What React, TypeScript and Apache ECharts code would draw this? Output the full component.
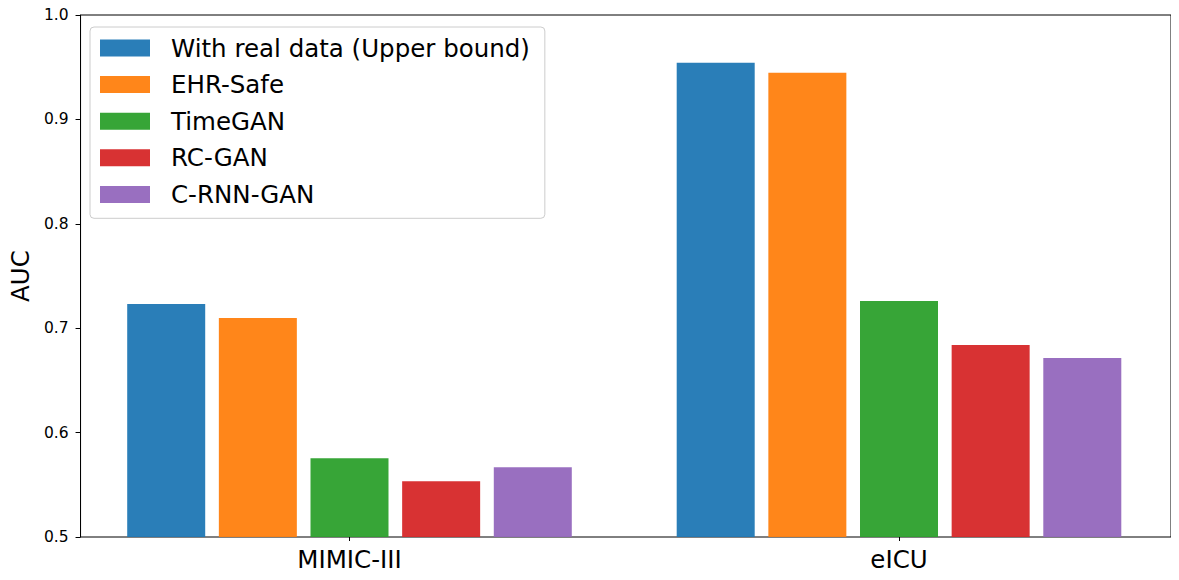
import React, { useEffect, useRef } from "react";
import * as echarts from "echarts";

const categories = ["MIMIC-III", "eICU"];
const seriesNames = ["With real data (Upper bound)", "EHR-Safe", "TimeGAN", "RC-GAN", "C-RNN-GAN"];
const realData = [0.7232, 0.9543];
const ehrSafe = [0.7097, 0.9447];
const timeGAN = [0.5755, 0.726];
const rcGAN = [0.5534, 0.6838];
const crnnGAN = [0.5668, 0.6714];
const colors = ["#1f77b4", "#ff7f0e", "#2ca02c", "#d62728", "#9467bd"];
const yTicks = { min: 0.5, max: 1.0, interval: 0.1 };

const FONT = "DejaVu Sans";

export default function App() {
  const ref = useRef<HTMLDivElement>(null);
  useEffect(() => {
    if (!ref.current) return;
    const chart = echarts.init(ref.current, null, { renderer: "svg" });
    const values = [realData, ehrSafe, timeGAN, rcGAN, crnnGAN];
    chart.setOption({
      animation: false,
      backgroundColor: "#ffffff",
      grid: [
        { left: 77, right: 8, top: 15, bottom: 43, show: true, borderColor: "#000", borderWidth: 1, backgroundColor: "transparent" },
        { left: 74.75, right: 5.25, top: 15, bottom: 43 },
      ],
      legend: {
        orient: "vertical",
        left: 90,
        top: 27,
        data: seriesNames,
        itemWidth: 50,
        itemHeight: 17,
        itemGap: 11.6,
        icon: "rect",
        padding: [8.5, 15, 11.4, 10],
        backgroundColor: "#ffffff",
        borderColor: "#cccccc",
        borderWidth: 1,
        borderRadius: 4,
        textStyle: { fontFamily: FONT, fontSize: 24.5, color: "#000", padding: [0, 0, 0, 16] },
      },
      xAxis: [
        {
          gridIndex: 0,
          type: "value",
          min: 0,
          max: 1,
          axisLine: { show: false },
          axisTick: { show: false },
          axisLabel: { show: false },
          splitLine: { show: false },
        },
        {
          gridIndex: 1,
          type: "category",
          data: categories,
          axisLine: { show: false },
          axisTick: { show: true, alignWithLabel: true, length: 4, lineStyle: { color: "#000", width: 1 } },
          axisLabel: { fontFamily: FONT, fontSize: 24.5, color: "#000", margin: 10 },
          splitLine: { show: false },
        },
      ],
      yAxis: [
        {
          gridIndex: 0,
          type: "value",
          min: yTicks.min,
          max: yTicks.max,
          interval: yTicks.interval,
          name: "AUC",
          nameLocation: "middle",
          nameGap: 45,
          nameRotate: 90,
          nameTextStyle: { fontFamily: FONT, fontSize: 24.5, color: "#000" },
          axisLine: { show: true, lineStyle: { color: "#000", width: 1 } },
          axisTick: { show: true, length: 5, lineStyle: { color: "#000", width: 1 } },
          axisLabel: {
            fontFamily: FONT,
            fontSize: 15.5,
            color: "#000",
            margin: 12,
            formatter: (v: number) => v.toFixed(1),
          },
          splitLine: { show: false },
        },
        {
          gridIndex: 1,
          type: "value",
          min: yTicks.min,
          max: yTicks.max,
          show: false,
          splitLine: { show: false },
        },
      ],
      series: seriesNames.map((name, i) => ({
        name,
        type: "bar",
        xAxisIndex: 1,
        yAxisIndex: 1,
        data: values[i],
        barWidth: 78,
        barGap: "17.5%",
        itemStyle: { color: colors[i], opacity: 0.95 },
      })),
    });
    return () => chart.dispose();
  }, []);
  return <div ref={ref} style={{ width: 1179, height: 580, margin: -8 }} />;
}
